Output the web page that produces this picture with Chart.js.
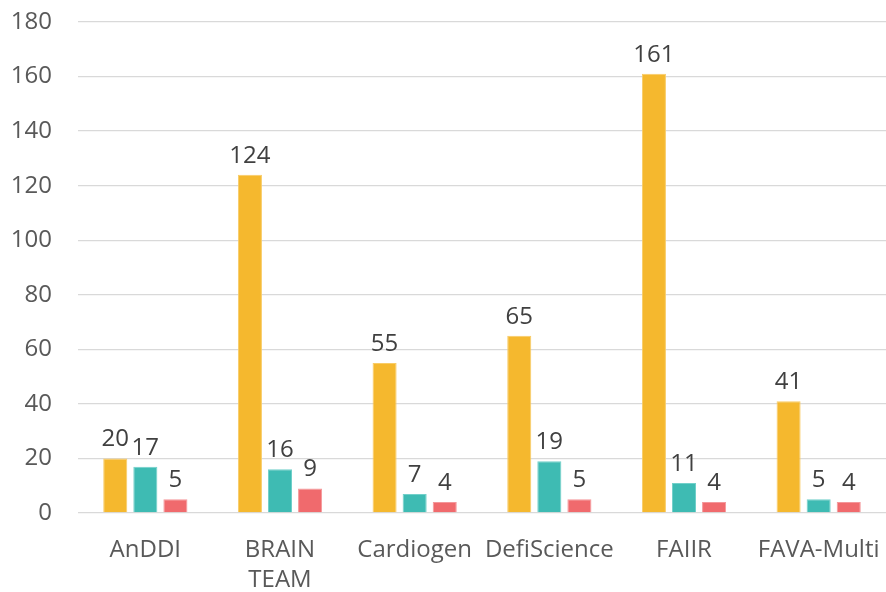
<!DOCTYPE html>
<html><head><meta charset="utf-8">
<script src="https://cdn.jsdelivr.net/npm/chart.js@4/dist/chart.umd.min.js"></script>
<style>html,body{margin:0;padding:0;background:#fff}#w{width:886px;height:592px}</style>
</head><body><div id="w"><canvas id="c"></canvas></div>
<script>
const categories = [["AnDDI"], ["BRAIN", "TEAM"], ["Cardiogen"], ["DefiScience"], ["FAIIR"], ["FAVA-Multi"]];
const series1 = [20, 124, 55, 65, 161, 41];
const series2 = [17, 16, 7, 19, 11, 5];
const series3 = [5, 9, 4, 5, 4, 4];
const yTicks = [0, 20, 40, 60, 80, 100, 120, 140, 160, 180];

const labelPlugin = {
  id: 'vals',
  afterDatasetsDraw(chart) {
    const ctx = chart.ctx;
    ctx.save();
    ctx.font = '24px "Open Sans", sans-serif';
    ctx.fillStyle = '#404040';
    ctx.textAlign = 'center';
    ctx.textBaseline = 'alphabetic';
    chart.data.datasets.forEach((ds, i) => {
      chart.getDatasetMeta(i).data.forEach((el, j) => {
        ctx.fillText(String(ds.data[j]), el.x, el.y - 12);
      });
    });
    ctx.restore();
  }
};

new Chart(document.getElementById('c'), {
  type: 'bar',
  data: {
    labels: categories,
    datasets: [
      {data: series1, backgroundColor: '#F5B82E', borderColor: '#F9CC66', borderWidth: 1},
      {data: series2, backgroundColor: '#3EBBB3', borderColor: '#72D0CA', borderWidth: 1},
      {data: series3, backgroundColor: '#F06A6D', borderColor: '#F4979A', borderWidth: 1}
    ]
  },
  options: {
    responsive: true, maintainAspectRatio: false, animation: false,
    layout: {padding: {top: 22, right: 0, bottom: 0, left: 0}},
    plugins: {legend: {display: false}, tooltip: {enabled: false}},
    datasets: {bar: {categoryPercentage: 0.67, barPercentage: 0.8}},
    scales: {
      x: {
        afterFit(axis) { axis.height = 79; axis.paddingTop = 0; axis.paddingLeft = 0; axis.paddingRight = 0; },
        grid: {display: false},
        border: {display: false},
        ticks: {color: '#595959', font: {family: '"Open Sans", sans-serif', size: 24, lineHeight: 1.25}, padding: 14, maxRotation: 0}
      },
      y: {
        min: 0, max: 180,
        afterBuildTicks(axis) { axis.ticks = yTicks.map(v => ({value: v})); },
        afterFit(axis) { axis.width = 78; axis.paddingTop = 0; axis.paddingBottom = 0; },
        grid: {color: '#D9D9D9', lineWidth: 1.3, drawTicks: false},
        border: {display: false},
        ticks: {color: '#595959', font: {family: '"Open Sans", sans-serif', size: 24}, padding: 26}
      }
    }
  },
  plugins: [labelPlugin]
});
</script></body></html>
